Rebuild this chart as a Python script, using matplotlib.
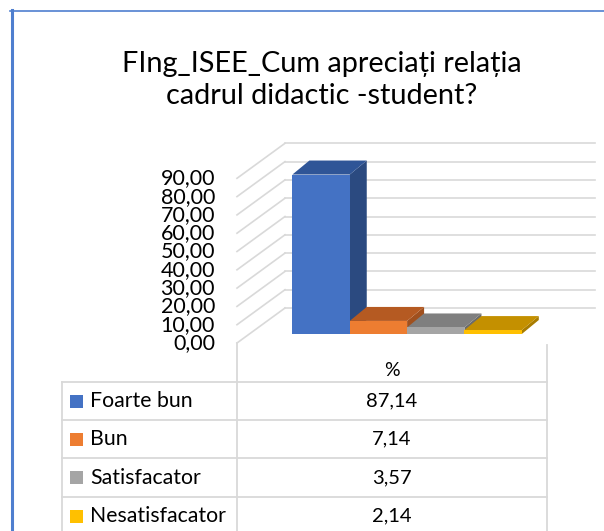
import matplotlib.pyplot as plt
from matplotlib.patches import Polygon, Rectangle
from matplotlib.lines import Line2D

# date
categorii = ["Foarte bun", "Bun", "Satisfacator", "Nesatisfacator"]
valori = [87.14, 7.14, 3.57, 2.14]
coloana = "%"
ticks = [0, 10, 20, 30, 40, 50, 60, 70, 80, 90]
titlu = "FIng_ISEE_Cum apreciați relația\ncadrul didactic -student?"

culori = ["#4472C4", "#ED7D31", "#A5A5A5", "#FFC000"]
culori_sus = ["#2F5597", "#B55A22", "#7F7F7F", "#C49000"]
culori_lat = ["#2B4A80", "#A0501E", "#6B6B6B", "#A87C00"]

plt.rcParams['font.family'] = ['Lato', 'DejaVu Sans']

W, H = 604, 531
fig = plt.figure(figsize=(W / 100, H / 100), dpi=100)
ax = fig.add_axes([0, 0, 1, 1])

# planul din fata: x 0..4 -> px 237..547, valori 0 -> px 343
x0, x1 = 237, 547
y0, ppu = 343, 1.83
sx = (x1 - x0) / 4
ax.set_xlim(-x0 / sx, (W - x0) / sx)
ax.set_ylim((y0 - H) / ppu, y0 / ppu)
ax.axis('off')

# adancime perete / bare
dxw, dyw = 48 / sx, 35 / ppu
dxb, dyb = 12 / sx, 9 / ppu
ddx, ddy = 17 / sx, 14 / ppu
grila = "#D9D9D9"

for t in ticks:
    ax.plot([0, dxw], [t, t + dyw], color=grila, lw=1.2, zorder=1)
    ax.plot([dxw, 4 + dxw], [t + dyw, t + dyw], color=grila, lw=1.2, zorder=1)
    ax.text(-22 / sx, t, f"{t:.2f}".replace(".", ","), ha="right", va="center",
            fontsize=15.5, color="#000000")

# bare 3D
bw = 0.74
start = 2.04 - bw * len(valori) / 2 + dxb
for i, v in enumerate(valori):
    xl = start + i * bw
    lat = [(xl + bw, dyb), (xl + bw, v + dyb), (xl + bw + ddx, v + dyb + ddy), (xl + bw + ddx, dyb + ddy)]
    sus = [(xl, v + dyb), (xl + bw, v + dyb), (xl + bw + ddx, v + dyb + ddy), (xl + ddx, v + dyb + ddy)]
    ax.add_patch(Polygon(lat, closed=True, facecolor=culori_lat[i], edgecolor="none", zorder=2 + i))
    ax.add_patch(Polygon(sus, closed=True, facecolor=culori_sus[i], edgecolor="none", zorder=2 + i))
    ax.bar(xl, v, width=bw, bottom=dyb, align="edge", color=culori[i], zorder=2 + i)

# titlu
fig.text(322 / W, 1 - 80 / H, titlu, ha="center", va="center", fontsize=20.8,
         linespacing=1.3, color="#000000")

# tabel de date
def fx(p):
    return p / W

def fy(p):
    return 1 - p / H

randuri = [382, 420, 458, 497, 535]
for r in randuri:
    fig.add_artist(Line2D([fx(62), fx(547)], [fy(r), fy(r)], color=grila, lw=1.3))
fig.add_artist(Line2D([fx(62), fx(62)], [fy(382), fy(H)], color=grila, lw=1.3))
fig.add_artist(Line2D([fx(237), fx(237)], [fy(343), fy(H)], color=grila, lw=1.3))
fig.add_artist(Line2D([fx(547), fx(547)], [fy(345), fy(H)], color=grila, lw=1.3))

fig.text(fx(392), fy(370), coloana, ha="center", va="center", fontsize=14)
for i, c in enumerate(categorii):
    yc = (randuri[i] + randuri[i + 1]) / 2
    fig.add_artist(Rectangle((fx(70), fy(yc + 6.5)), 13 / W, 13 / H, transform=fig.transFigure,
                             facecolor=culori[i], edgecolor="none"))
    fig.text(fx(90), fy(yc), c, ha="left", va="center", fontsize=15.3)
    fig.text(fx(392), fy(yc), f"{valori[i]:.2f}".replace(".", ","), ha="center", va="center", fontsize=14.5)

# chenar albastru
fig.add_artist(Line2D([fx(11.5), fx(11.5)], [fy(10), fy(H)], color="#4F7FCF", lw=2.2))
fig.add_artist(Line2D([fx(10), fx(W)], [fy(10.5), fy(10.5)], color="#4F7FCF", lw=1.2))

fig.savefig("out.png", dpi=100)
